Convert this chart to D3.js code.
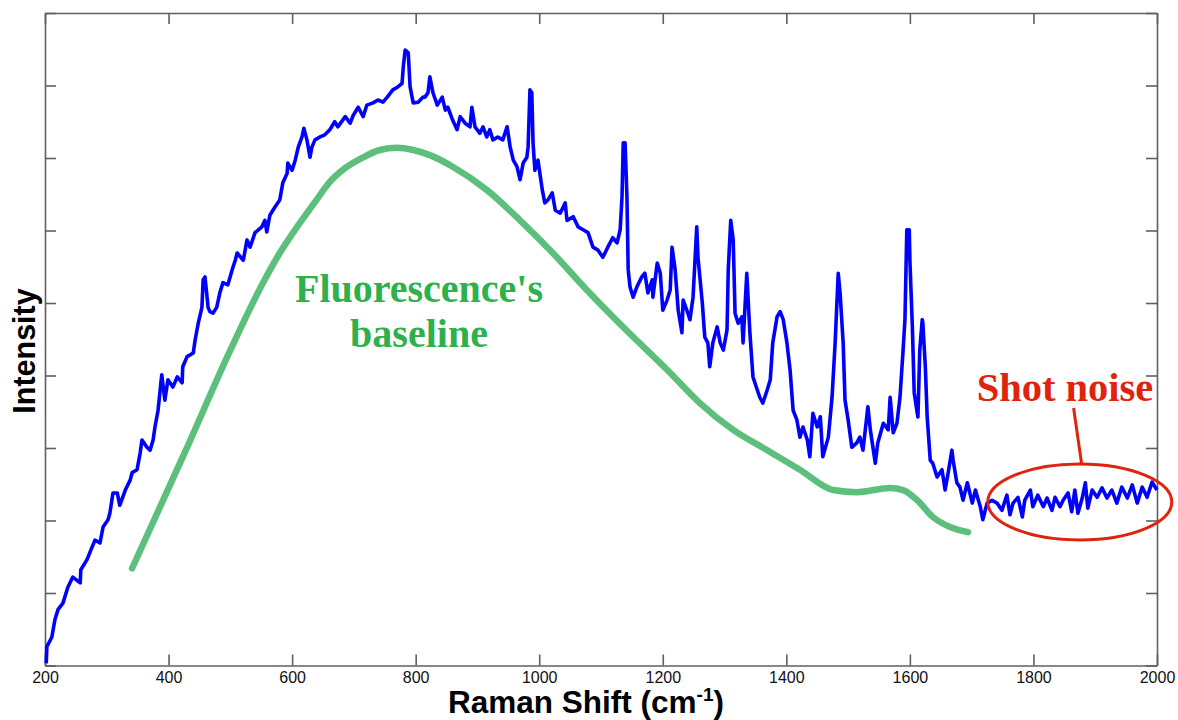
<!DOCTYPE html>
<html><head><meta charset="utf-8">
<script src="https://cdn.jsdelivr.net/npm/d3@7"></script>
<style>body{margin:0;background:#fff}svg{display:block}</style>
</head><body>
<svg id="c" width="1178" height="720"></svg>
<script>
// Raman spectrum (blue), cm^-1 and intensity (a.u.)
const spectrumShift = [202,203,211,216,221,229,237,245,257,258,268,276,281,289,294,302,305,310,317,321,330,338,341,349,354,357,365,370,375,378,383,389,394,399,407,414,422,423,430,440,443,448,454,456,459,464,467,472,478,483,488,496,503,508,
511,521,527,532,540,551,556,559,564,572,580,585,592,593,600,605,610,616,619,624,629,632,637,645,653,661,669,674,686,694,699,707,715,721,731,739,747,754,763,771,778,780,783,788,791,796,804,812,
815,820,823,828,835,843,848,852,860,867,872,880,888,891,896,904,909,915,920,925,933,941,948,953,958,964,969,974,980,982,985,988,990,993,998,1005,1009,1014,1021,1026,1034,1042,1045,1055,1063,1071,1079,1087,1095,1103,1111,
1119,1126,1131,1134,1136,1139,1142,1144,1147,1152,1158,1166,1171,1176,1183,1184,1191,1196,1200,1207,1212,1215,1220,1225,1231,1233,1239,1244,1249,1255,1257,1264,1268,1273,1276,1281,1288,1293,1298,1304,1306,1310,1314,1317,1322,1328,1330,1336,1341,1346,1353,1357,1362,1369,1374,1378,1385,1390,1395,1401,
1406,1411,1417,1422,1427,1434,1438,1443,1450,1455,1459,1468,1474,1479,1484,1487,1492,1495,1500,1506,1514,1519,1524,1529,1532,1536,1544,1548,1557,1565,1568,1573,1579,1584,1589,1592,1595,1599,1600,1604,1607,1612,1613,1616,1620,1621,1625,1628,1633,1637,1644,1652,1657,1662,1668,1670,1676,1681,1686,1693,1701,1706,1714,1718,
1725,1733,1741,1749,1757,1762,1767,1775,1782,1786,1795,1799,1807,1816,1822,1830,1835,1843,1848,1856,1862,1867,1872,1879,1884,1888,1895,1903,1911,1919,1927,1935,1943,1952,1960,1968,1976,1984,1992,2000];
const spectrumIntensity = [3,26,39,63,77,86,108,122,114,132,146,163,173,169,191,201,210,238,238,221,242,256,266,270,293,311,301,297,311,329,352,401,366,394,384,398,390,412,426,431,449,472,494,532,536,494,488,486,494,514,528,525,546,559,
569,559,587,577,597,605,614,598,621,632,642,666,679,693,683,697,715,729,741,725,701,715,725,729,732,739,750,743,757,748,759,770,757,773,776,780,777,784,794,798,803,826,849,845,798,776,777,784,
784,790,812,790,773,784,766,770,752,739,757,748,743,770,743,734,743,729,739,725,729,725,743,715,697,688,670,693,701,715,794,790,721,683,697,656,638,642,652,628,624,638,614,619,605,601,597,577,573,563,577,
590,583,601,646,721,721,646,546,522,508,522,536,541,514,532,508,555,541,490,504,518,577,546,490,459,504,490,477,508,605,563,500,453,445,412,445,467,445,435,463,546,614,587,486,472,481,445,541,459,398,380,370,362,380,394,445,481,488,477,445,
408,352,339,315,329,311,288,348,329,343,288,315,370,445,541,514,445,366,339,301,307,315,297,334,357,325,279,307,334,325,370,321,334,370,435,477,601,601,559,467,376,348,343,435,477,472,412,343,283,279,260,270,242,266,297,283,252,246,228,252,224,242,219,201,
224,228,224,214,235,208,224,232,205,228,242,219,235,219,231,214,232,219,228,238,212,242,210,231,252,217,242,232,245,231,242,224,246,231,249,224,246,232,253,242];

// Fluorescence baseline (green)
const baselineShift = [341,428,500,553,580,608,636,661,689,715,742,770,796,823,860,915,969,1022,1077,1144,1207,1260,1314,1369,1422,1476,1514,1568,1589,1612,1637,1665,1694];
const baselineIntensity = [134,297,435,528,569,605,638,667,688,701,711,714,711,704,688,656,614,569,518,460,408,362,325,297,270,242,239,245,242,228,205,191,184];

const xTicks = [200,400,600,800,1000,1200,1400,1600,1800,2000];
const yTicks = [0,100,200,300,400,500,600,700,800,900];

const svg = d3.select("#c");
const L = 45, R = 1157, T = 13, B = 665.5;
const x = d3.scaleLinear().domain([200,2000]).range([L,R]);
const y = d3.scaleLinear().domain([0,900]).range([B,T]);
const frameCol = "#5f5f5f";

// axes
function styleAxis(g){
  g.selectAll(".domain").attr("stroke",frameCol).attr("stroke-width",1.6);
  g.selectAll(".tick line").attr("stroke",frameCol).attr("stroke-width",1.6);
  g.selectAll("text").attr("font-family","Arial, 'Liberation Sans', sans-serif").attr("font-size",16).attr("fill","#111");
}
svg.append("g").attr("transform",`translate(0,${B})`)
  .call(d3.axisBottom(x).tickValues(xTicks).tickSize(-11).tickSizeOuter(0).tickPadding(6).tickFormat(d3.format("d")))
  .call(styleAxis);
svg.append("g").attr("transform",`translate(0,${T})`)
  .call(d3.axisTop(x).tickValues(xTicks).tickSize(-11).tickSizeOuter(0).tickFormat(""))
  .call(styleAxis);
svg.append("g").attr("transform",`translate(${L},0)`)
  .call(d3.axisLeft(y).tickValues(yTicks).tickSize(-11).tickSizeOuter(0).tickFormat(""))
  .call(styleAxis);
svg.append("g").attr("transform",`translate(${R},0)`)
  .call(d3.axisRight(y).tickValues(yTicks).tickSize(-11).tickSizeOuter(0).tickFormat(""))
  .call(styleAxis);

// baseline
const gLine = d3.line().x(d=>x(d[0])).y(d=>y(d[1])).curve(d3.curveMonotoneX);
svg.append("path").datum(baselineShift.map((s,i)=>[s,baselineIntensity[i]]))
  .attr("d",gLine).attr("fill","none").attr("stroke","#5cbf7c").attr("stroke-width",6.5).attr("stroke-linecap","round");

// spectrum
const bLine = d3.line().x(d=>x(d[0])).y(d=>y(d[1]));
svg.append("path").datum(spectrumShift.map((s,i)=>[s,spectrumIntensity[i]]))
  .attr("d",bLine).attr("fill","none").attr("stroke","#0000ff").attr("stroke-width",3.6).attr("stroke-linejoin","round");

// annotations
const serif = "'Liberation Serif','Times New Roman',serif";
const green = "#2eb04c";
svg.append("text").attr("x",419).attr("y",302).attr("text-anchor","middle")
  .attr("font-family",serif).attr("font-weight","bold").attr("font-size",40).attr("fill",green).text("Fluorescence's");
svg.append("text").attr("x",419).attr("y",347).attr("text-anchor","middle")
  .attr("font-family",serif).attr("font-weight","bold").attr("font-size",40).attr("fill",green).text("baseline");

const red = "#e0230e";
svg.append("text").attr("x",1065).attr("y",401).attr("text-anchor","middle")
  .attr("font-family",serif).attr("font-weight","bold").attr("font-size",40.5).attr("fill",red).text("Shot noise");
svg.append("line").attr("x1",x(1865)).attr("y1",408).attr("x2",x(1878)).attr("y2",464)
  .attr("stroke",red).attr("stroke-width",3);
svg.append("ellipse").attr("cx",x(1875)).attr("cy",502).attr("rx",92).attr("ry",38)
  .attr("fill","none").attr("stroke",red).attr("stroke-width",3);

// axis titles
const sans = "Arial,'Liberation Sans',sans-serif";
const xt = svg.append("text").attr("x",586).attr("y",713).attr("text-anchor","middle")
  .attr("font-family",sans).attr("font-weight","bold").attr("font-size",31.5).attr("fill","#000");
xt.append("tspan").text("Raman Shift (cm");
xt.append("tspan").attr("dy",-12).attr("font-size",19).text("-1");
xt.append("tspan").attr("dy",12).text(")");
svg.append("text").attr("transform",`translate(35,${351}) rotate(-90)`).attr("text-anchor","middle")
  .attr("font-family",sans).attr("font-weight","bold").attr("font-size",30.5).attr("fill","#000").text("Intensity");
</script>
</body></html>
